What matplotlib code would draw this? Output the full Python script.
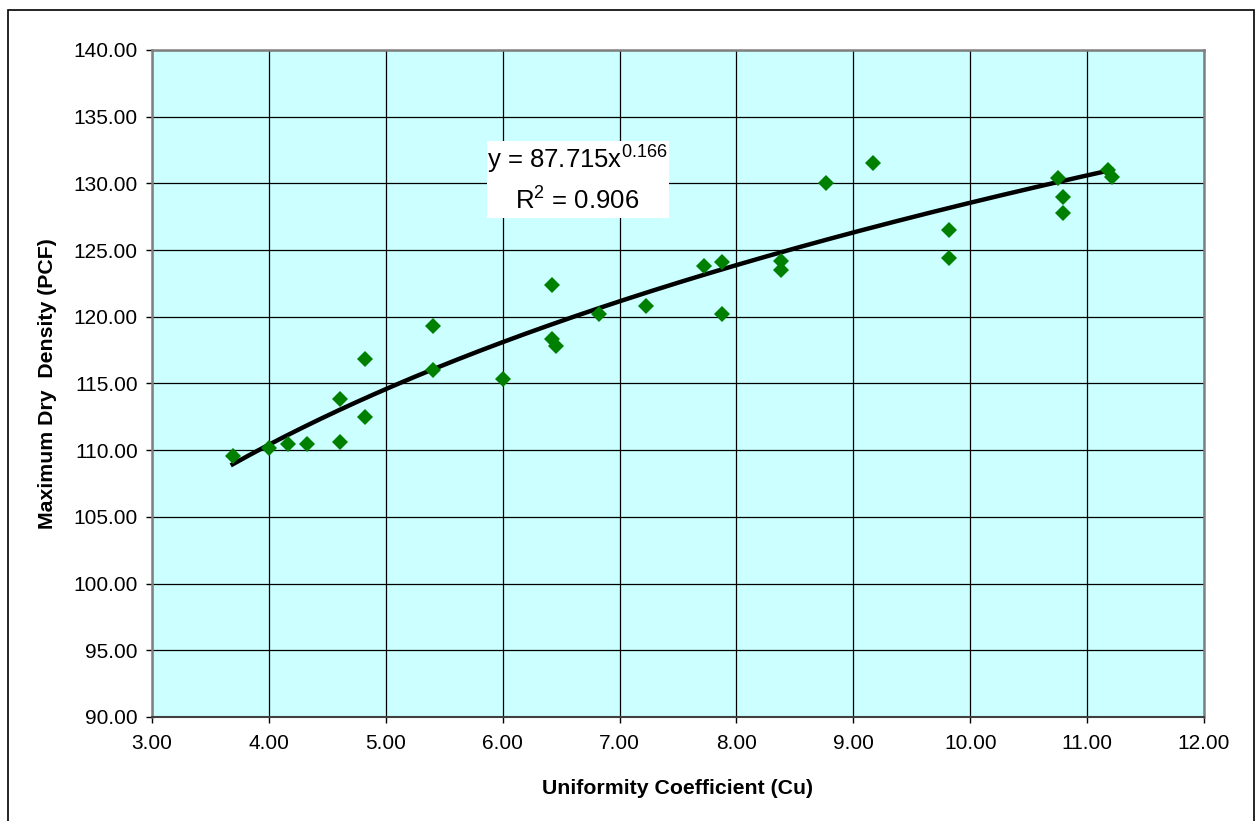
import numpy as np
import matplotlib.pyplot as plt
from matplotlib.patches import Rectangle

plt.rcParams['font.family'] = ['Liberation Sans', 'DejaVu Sans']
plt.rcParams['mathtext.fontset'] = 'custom'
plt.rcParams['mathtext.rm'] = 'Liberation Sans'
plt.rcParams['mathtext.it'] = 'Liberation Sans:italic'
plt.rcParams['mathtext.bf'] = 'Liberation Sans:bold'

# data
cu = [3.69, 4.00, 4.165, 4.33, 4.61, 4.61, 4.82, 4.82, 5.40, 5.40,
      6.00, 6.42, 6.42, 6.46, 6.82, 7.23, 7.72, 7.88, 7.88, 8.38,
      8.38, 8.77, 9.17, 9.82, 9.82, 10.75, 10.79, 10.79, 11.18, 11.21]
mdd = [109.6, 110.2, 110.5, 110.5, 110.6, 113.85, 112.5, 116.85, 119.3, 116.0,
       115.3, 122.4, 118.3, 117.8, 120.2, 120.8, 123.8, 124.1, 120.2, 124.2,
       123.5, 130.0, 131.5, 126.5, 124.4, 130.4, 129.0, 127.8, 131.0, 130.5]

# power trend line y = a*x^b
a, b = 87.715, 0.166
x_fit = np.linspace(min(cu), max(cu), 200)
y_fit = a * x_fit ** b

W, H = 1256, 821
fig = plt.figure(figsize=(W / 100, H / 100), dpi=100)
fig.patches.append(Rectangle((8 / W, -0.01), (1254 - 8) / W, (H - 10) / H + 0.01,
                             transform=fig.transFigure, fill=False,
                             edgecolor='black', linewidth=1.2))

ax = fig.add_axes([152 / W, (H - 717) / H, (1204 - 152) / W, (717 - 50) / H])
ax.set_facecolor('#CCFFFF')

ax.plot(x_fit, y_fit, color='black', linewidth=3.2, zorder=3)
ax.plot(cu, mdd, linestyle='none', marker='D', markersize=7.8,
        color='#008000', markeredgewidth=0, zorder=4)

ax.set_xlim(3, 12)
ax.set_ylim(90, 140)
ax.set_xticks(np.arange(3, 12.01, 1))
ax.set_yticks(np.arange(90, 140.01, 5))
ax.xaxis.set_major_formatter(plt.FormatStrFormatter('%.2f'))
ax.yaxis.set_major_formatter(plt.FormatStrFormatter('%.2f'))
ax.tick_params(labelsize=15, length=4.3, width=1, color='black')
ax.tick_params(axis='x', pad=8)
ax.tick_params(axis='y', pad=6)
ax.grid(True, color='black', linewidth=0.9)
ax.set_axisbelow(True)

for side in ['top', 'right', 'left']:
    ax.spines[side].set_color('#808080')
    ax.spines[side].set_linewidth(1.8)
ax.spines['bottom'].set_color('#404040')
ax.spines['bottom'].set_linewidth(1.5)

ax.set_xlabel('Uniformity Coefficient (Cu)', fontsize=15.3, fontweight='bold', labelpad=19)
ax.set_ylabel('Maximum Dry  Density (PCF)', fontsize=15.3, fontweight='bold', labelpad=12)

# equation box
ax.add_patch(Rectangle((5.866, 127.41), 7.423 - 5.866, 133.18 - 127.41,
                       facecolor='white', edgecolor='none', zorder=5))
ax.text(6.64, 131.08, r'y = 87.715x$\mathregular{^{0.166}}$', fontsize=18.5,
        ha='center', va='baseline', zorder=6)
ax.text(6.64, 128.0, r'R$\mathregular{^2}$ = 0.906', fontsize=18.5,
        ha='center', va='baseline', zorder=6)

fig.savefig('out.png', dpi=100)
